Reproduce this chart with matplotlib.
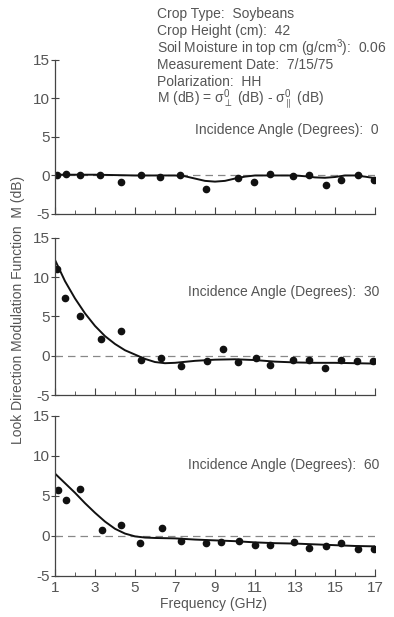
import matplotlib
matplotlib.use('Agg')
import matplotlib.pyplot as plt

plt.rcParams['font.family'] = ['Liberation Sans', 'DejaVu Sans']
plt.rcParams['axes.unicode_minus'] = False
plt.rcParams['mathtext.fontset'] = 'custom'
plt.rcParams['mathtext.rm'] = 'Liberation Sans'
plt.rcParams['mathtext.it'] = 'Liberation Sans'

# measured points, incidence angle 0
f0 = [1.08, 1.53, 2.25, 3.25, 4.3, 5.28, 6.25, 7.25, 8.57, 10.17, 10.95, 11.75, 12.92, 13.72, 14.55, 15.3, 16.17, 16.95]
m0 = [0.0, 0.17, 0.1, 0.1, -0.8, 0.0, -0.2, 0.0, -1.7, -0.35, -0.9, 0.17, -0.05, 0.1, -1.3, -0.6, 0.1, -0.6]
# fitted curve, incidence angle 0
cf0 = [1, 3, 5, 7, 7.5, 8, 8.5, 9, 9.5, 10, 10.5, 11, 12, 13, 13.5, 14, 14.5, 15, 15.5, 16, 16.5, 17]
cm0 = [0.1, 0.1, 0.0, 0.0, -0.1, -0.4, -0.7, -0.8, -0.7, -0.4, -0.15, 0.0, 0.0, 0.0, -0.1, -0.25, -0.3, -0.2, 0.0, 0.0, -0.15, -0.35]

# incidence angle 30
f30 = [1.12, 1.5, 2.25, 3.28, 4.3, 5.3, 6.3, 7.28, 8.62, 9.38, 10.17, 11.05, 11.75, 12.92, 13.72, 14.5, 15.3, 16.1, 16.9]
m30 = [11.0, 7.4, 5.0, 2.1, 3.1, -0.55, -0.25, -1.27, -0.64, 0.85, -0.85, -0.25, -1.19, -0.55, -0.55, -1.6, -0.55, -0.64, -0.68]
cf30 = [1, 1.5, 2, 2.5, 3, 3.5, 4, 4.5, 5, 5.5, 6, 6.5, 7, 8, 9, 10, 11, 12, 13, 14, 15, 16, 17]
cm30 = [12.2, 9.5, 7.3, 5.4, 3.8, 2.5, 1.5, 0.7, 0.15, -0.4, -0.8, -0.95, -0.9, -0.65, -0.5, -0.45, -0.55, -0.75, -0.85, -0.9, -0.9, -0.95, -1.0]

# incidence angle 60
f60 = [1.13, 1.53, 2.27, 3.33, 4.3, 5.25, 6.33, 7.3, 8.55, 9.3, 10.18, 11.0, 11.75, 12.95, 13.72, 14.55, 15.3, 16.13, 16.97]
m60 = [5.8, 4.45, 5.85, 0.72, 1.31, -0.93, 0.97, -0.64, -0.85, -0.76, -0.64, -1.19, -1.14, -0.8, -1.48, -1.27, -0.89, -1.69, -1.69]
cf60 = [1, 1.5, 2, 2.5, 3, 3.5, 4, 4.5, 5, 5.5, 6, 7, 8, 9, 10, 11, 12, 13, 14, 15, 16, 17]
cm60 = [7.8, 6.6, 5.4, 4.1, 2.9, 1.8, 0.9, 0.3, -0.05, -0.2, -0.25, -0.3, -0.45, -0.55, -0.65, -0.8, -0.9, -0.95, -1.05, -1.15, -1.25, -1.3]

panels = [
    (0, f0, m0, cf0, cm0, 5.9),
    (30, f30, m30, cf30, cm30, 8.1),
    (60, f60, m60, cf60, cm60, 8.85),
]

header = [
    'Crop Type:  Soybeans',
    'Crop Height (cm):  42',
    'Soil Moisture in top cm (g/cm$^3$):  0.06',
    'Measurement Date:  7/15/75',
    'Polarization:  HH',
    r'M (dB) = $\sigma^0_\perp$ (dB) - $\sigma^0_{\parallel}$ (dB)',
]
header_y = [14, 31, 48, 65, 82, 100]

txt = '#555555'
fig = plt.figure(figsize=(3.94, 6.17), dpi=100)
positions = [
    [0.1396, 0.6532, 0.812, 0.2496],
    [0.1396, 0.3598, 0.812, 0.2545],
    [0.1396, 0.0665, 0.812, 0.2593],
]

for pos, (ang, fx, mx, cx, cy, ty) in zip(positions, panels):
    ax = fig.add_axes(pos)
    ax.plot([1, 17], [0, 0], color='#888888', lw=0.9, dashes=(6, 4))
    ax.plot(cx, cy, color='#111111', lw=1.4)
    ax.plot(fx, mx, 'o', color='#111111', ms=4.5)
    ax.set_xlim(1, 17)
    ax.set_ylim(-5, 15)
    ax.set_yticks([-5, 0, 5, 10, 15])
    ax.set_xticks(range(1, 18, 2))
    ax.set_xticks(range(2, 17, 2), minor=True)
    ax.spines['top'].set_visible(False)
    ax.spines['right'].set_visible(False)
    for s in ('left', 'bottom'):
        ax.spines[s].set_color('#444444')
        ax.spines[s].set_linewidth(0.9)
    ax.tick_params(axis='x', which='major', direction='in', length=5, color='#444444', labelsize=11, labelcolor=txt)
    ax.tick_params(axis='x', which='minor', direction='in', length=3, color='#444444')
    ax.tick_params(axis='y', direction='inout', length=6, color='#444444', labelsize=11, labelcolor=txt, pad=1)
    if pos is not positions[-1]:
        ax.tick_params(axis='x', which='major', labelbottom=False)
    ax.text(17.2, ty, 'Incidence Angle (Degrees):  %d' % ang, ha='right', va='center',
            fontsize=10, color=txt, clip_on=False)

for line, yy in zip(header, header_y):
    fig.text(157 / 394, 1 - yy / 617, line, ha='left', va='center', fontsize=10, color=txt)

fig.text(18 / 394, 1 - 310 / 617, 'Look Direction Modulation Function  M (dB)', rotation=90,
         ha='center', va='center', fontsize=10, color=txt)
fig.text(213 / 394, 1 - 604 / 617, 'Frequency (GHz)', ha='center', va='center', fontsize=10, color=txt)

fig.savefig('out.png', dpi=100)
